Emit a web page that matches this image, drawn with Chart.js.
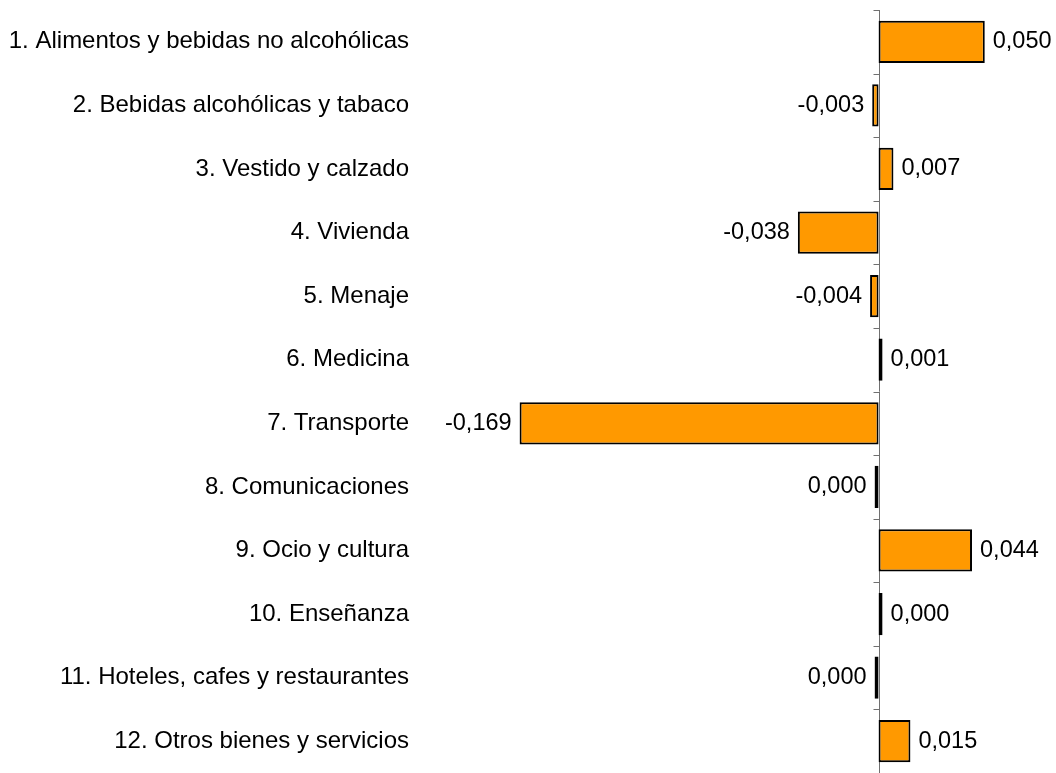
<!DOCTYPE html>
<html><head><meta charset="utf-8">
<script src="https://cdn.jsdelivr.net/npm/chart.js@4"></script>
<style>html,body{margin:0;padding:0;background:#fff}</style>
</head><body>
<canvas id="c" width="1056" height="773"></canvas>
<script>
const categories = [
  "1. Alimentos y bebidas no alcohólicas",
  "2. Bebidas alcohólicas y tabaco",
  "3. Vestido y calzado",
  "4. Vivienda",
  "5. Menaje",
  "6. Medicina",
  "7. Transporte",
  "8. Comunicaciones",
  "9. Ocio y cultura",
  "10. Enseñanza",
  "11. Hoteles, cafes y restaurantes",
  "12. Otros bienes y servicios"
];
const values = [0.050, -0.003, 0.007, -0.038, -0.004, 0.001, -0.169, -0.0002, 0.044, 0.0002, -0.0002, 0.015];
const xMin = -0.21;
const xMax = 0.08;

const FONT = "'Liberation Sans', Arial, sans-serif";

function fmt(v) {
  const a = Math.abs(v).toFixed(3).replace('.', ',');
  return (v < 0 && Math.abs(v) >= 0.0005 ? '-' : '') + a;
}

const zeroAxis = {
  id: 'zeroAxis',
  beforeDatasetsDraw(chart) {
    const ctx = chart.ctx, x = chart.scales.x, y = chart.scales.y;
    const x0 = Math.round(x.getPixelForValue(0)) + 0.5;
    ctx.save();
    ctx.strokeStyle = '#707070';
    ctx.lineWidth = 1;
    ctx.beginPath();
    ctx.moveTo(x0, chart.chartArea.top);
    ctx.lineTo(x0, chart.chartArea.bottom);
    for (let i = 0; i <= categories.length; i++) {
      const yy = Math.round(y.getPixelForValue(i - 0.5)) + 0.5;
      ctx.moveTo(x0 - 6, yy);
      ctx.lineTo(x0, yy);
    }
    ctx.stroke();
    ctx.restore();
  }
};

const valueLabels = {
  id: 'valueLabels',
  afterDatasetsDraw(chart) {
    const ctx = chart.ctx;
    const meta = chart.getDatasetMeta(0);
    ctx.save();
    ctx.font = "23.5px " + FONT;
    ctx.fillStyle = '#000';
    ctx.textBaseline = 'middle';
    meta.data.forEach((bar, i) => {
      const v = values[i];
      const neg = v < 0;
      ctx.textAlign = neg ? 'right' : 'left';
      ctx.fillText(fmt(v), bar.x + (neg ? -8 : 8), bar.y);
    });
    ctx.restore();
  }
};

new Chart(document.getElementById('c'), {
  type: 'bar',
  data: {
    labels: categories,
    datasets: [{
      data: values,
      backgroundColor: '#FF9900',
      borderColor: '#000000',
      borderWidth: 2,
      borderSkipped: false,
      barPercentage: 0.665,
      categoryPercentage: 1,
      minBarLength: 4
    }]
  },
  options: {
    indexAxis: 'y',
    responsive: false,
    devicePixelRatio: 1,
    animation: false,
    layout: { padding: { top: 10, right: 7.5, bottom: 0, left: 0 } },
    scales: {
      x: { type: 'linear', min: xMin, max: xMax, display: false },
      y: {
        type: 'category',
        grid: { display: false, drawTicks: false },
        border: { display: false },
        ticks: {
          padding: 23.5,
          color: '#000',
          autoSkip: false,
          maxRotation: 0,
          font: { family: FONT, size: 24 }
        },
        afterFit(s) {
          s.width = 432.5;
          s.paddingTop = 0; s.paddingBottom = 0;
          s.paddingLeft = 0; s.paddingRight = 0;
        }
      }
    },
    plugins: { legend: { display: false }, tooltip: { enabled: false } }
  },
  plugins: [zeroAxis, valueLabels]
});
</script>
</body></html>
